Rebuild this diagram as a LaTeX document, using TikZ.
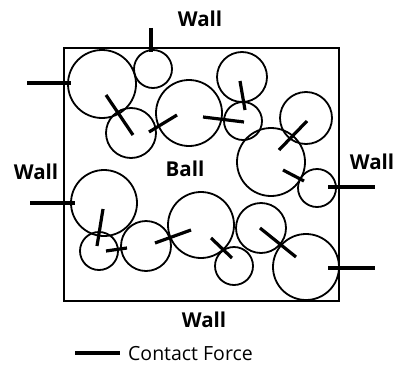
\documentclass[tikz,border=0pt]{standalone}
\usepackage{fontspec}
\setmainfont{Open Sans}
\usetikzlibrary{calc,positioning}

\tikzset{
	ball/.style={line width=1.8pt},
	force/.style={line width=3.2pt},
	wallbox/.style={line width=1.8pt},
	walltext/.style={font=\fontsize{20.5}{24}\selectfont\bfseries,inner sep=0pt},
}

\begin{document}
\begin{tikzpicture}[x=1pt,y=-1pt]
			\useasboundingbox (0,0) rectangle (395,369);
			\draw[wallbox] (64,48) rectangle (339,301);
			% balls
			\foreach \cx/\cy/\r in {102/84/34,153/69/19,131/133/25,189/113/33,%
				242/77/25,243/121/19,306/118/26,271/162/34,317/188/19,%
				104/203/33,99/251/19,146/246/25,201/225/33,234/266/19,%
				261/228/25,306/267/33}
				\draw[ball] (\cx,\cy) circle (\r pt);
			% contact forces
			\draw[force] (151,28) -- (151,52);
			\draw[force] (27,83) -- (71,83);
			\draw[force] (106,95) -- (133,135);
			\draw[force] (149,132) -- (177,115);
			\draw[force] (203,117) -- (244,122);
			\draw[force] (240,81) -- (245,110);
			\draw[force] (279,150) -- (307,121);
			\draw[force] (283,170) -- (304,181);
			\draw[force] (328,187) -- (375,187);
			\draw[force] (30,203) -- (75,203);
			\draw[force] (103,209) -- (97,246);
			\draw[force] (106,251) -- (127,248);
			\draw[force] (155,243) -- (191,230);
			\draw[force] (211,238) -- (232,258);
			\draw[force] (260,228) -- (296,257);
			\draw[force] (328,268) -- (375,268);
			% labels
			\node[walltext] (walltop) at (200,19) {Wall};
			\node[walltext] (wallleft) at (36,172) {Wall};
			\node[walltext] (wallright) at (372,162) {Wall};
			\node[walltext] (wallbottom) at (204,320) {Wall};
			\node[walltext] (ballname) at (185,169) {Ball};
			% legend
			\draw[force] (75,353) -- (120,353);
			\node[font=\fontsize{19.5}{23}\selectfont,inner sep=0pt] (legend) at (190.5,354) {Contact Force};
		\end{tikzpicture}
\end{document}
